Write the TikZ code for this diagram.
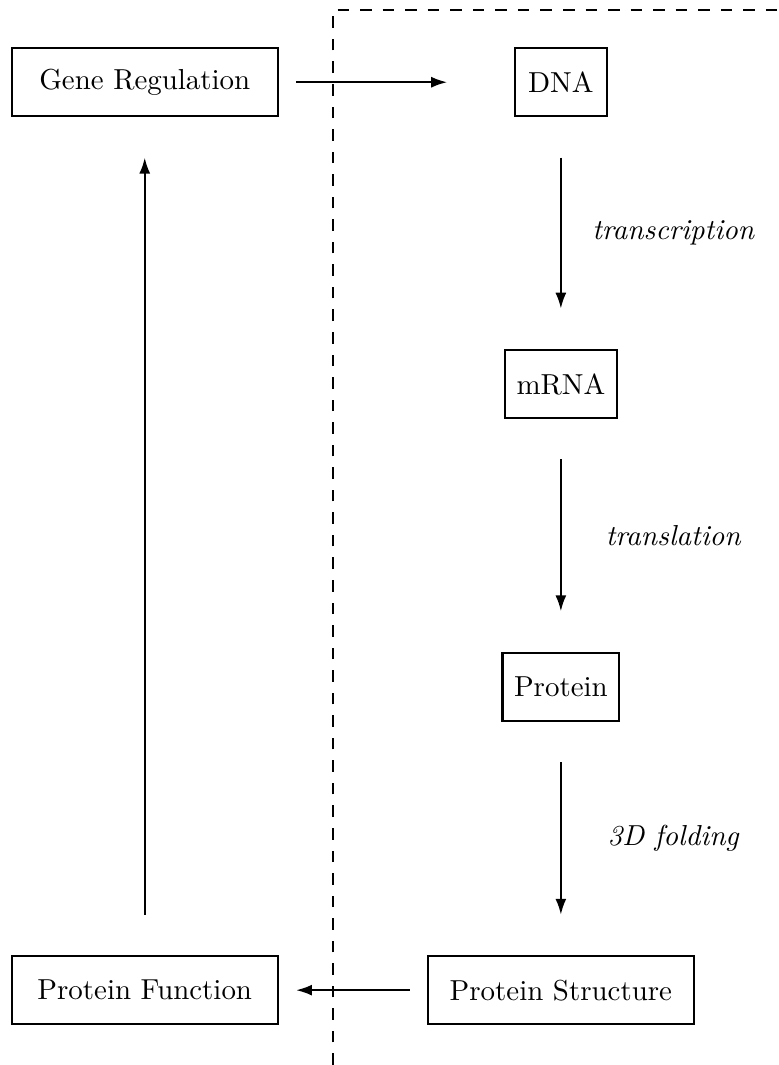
\documentclass[tikz,border=0pt]{standalone}
\usetikzlibrary{arrows.meta}
\begin{document}
\begin{tikzpicture}[box/.style={draw,line width=0.7pt,inner xsep=4pt,minimum width=32pt,minimum height=23.5pt},
	widebox/.style={box,minimum width=92pt},
	flow/.style={-{Latex[length=5.5pt,width=3.8pt]},line width=0.7pt}]
	\useasboundingbox (0,0) rectangle (9.47,12.95);
	\node [widebox] (gene) at (1.76,11.95) {Gene Regulation};
	\node [box] (dna) at (6.82,11.95) {DNA};
	\node [box] (mrna) at (6.82,8.28) {mRNA};
	\node [box] (prot) at (6.82,4.60) {Protein};
	\node [widebox] (struct) at (6.82,0.91) {Protein Structure};
	\node [widebox] (func) at (1.76,0.91) {Protein Function};
	% boundary
	\draw [line width=0.7pt,dash pattern=on 4pt off 3.8pt] (4.05,0) -- (4.05,12.83) -- (9.47,12.83);
	% arrows
	\draw [flow,shorten <=6pt,shorten >=23pt] (gene) -- (dna);
	\draw [flow,shorten <=14pt,shorten >=14pt] (dna) -- (mrna)
		node [midway,xshift=39pt] {\textit{transcription}};
	\draw [flow,shorten <=14pt,shorten >=14pt] (mrna) -- (prot)
		node [midway,xshift=39pt] {\textit{translation}};
	\draw [flow,shorten <=14pt,shorten >=14pt] (prot) -- (struct)
		node [midway,xshift=39pt] {\textit{3D folding}};
	\draw [flow,shorten <=6pt,shorten >=6pt] (struct) -- (func);
	\draw [flow,shorten <=14pt,shorten >=14pt] (func) -- (gene);
\end{tikzpicture}
\end{document}
